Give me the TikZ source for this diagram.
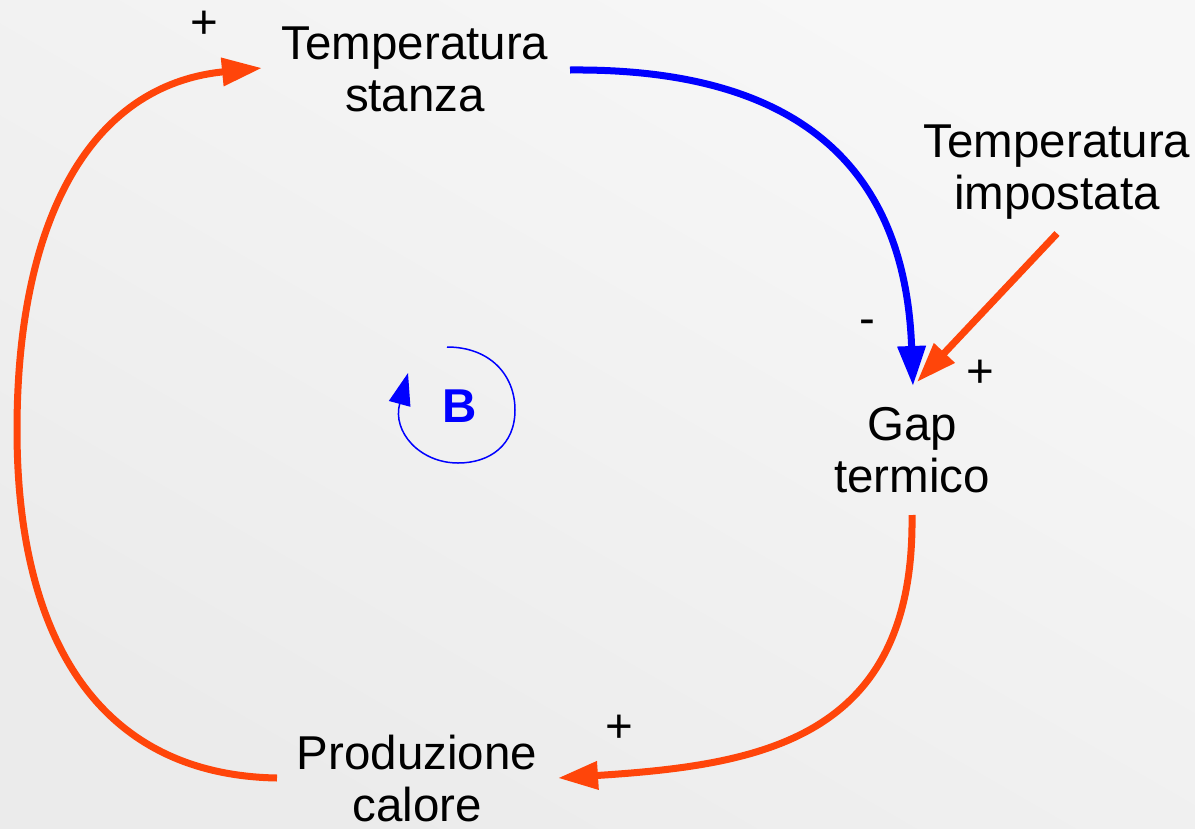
\documentclass[tikz,border=0pt]{standalone}
\usepackage{fontspec}
\setmainfont{Liberation Sans}
\usetikzlibrary{arrows.meta,calc}
\definecolor{lred}{RGB}{255,69,10}
\definecolor{lblue}{RGB}{0,0,255}
\definecolor{bgA}{RGB}{235,235,235}
\definecolor{bgB}{RGB}{247,247,247}
\begin{document}
\begin{tikzpicture}[x=1pt,y=-1pt,
  var/.style={align=center,inner sep=0pt,font=\fontsize{47.5}{52}\selectfont},
  sgn/.style={inner sep=0pt,font=\fontsize{47.5}{52}\selectfont},
  link/.style={line width=7pt,-{Triangle[length=40pt,width=27pt]}},
  redlink/.style={link,draw=lred},
  bluelink/.style={link,draw=lblue}]
\shade[top color=bgB,bottom color=bgA,shading angle=-30] (0,0) rectangle (1195,828);
\useasboundingbox (0,0) rectangle (1195,828);
% variables
\node[var] (ts)  at (415,69.5)  {Temperatura\\stanza};
\node[var] (ti)  at (1057,172.5) {Temperatura\\impostata};
\node[var] (gap) at (912,450.5) {Gap\\termico};
\node[var] (pc)  at (417,778.5) {Produzione\\calore};
% polarity signs
\node[sgn] (p1) at (204,25) {+};
\node[sgn] (m1) at (867,327) {-};
\node[sgn] (p2) at (980,374) {+};
\node[sgn] (p3) at (619,729) {+};
% loop marker
\node[inner sep=0pt,font=\fontsize{47.5}{52}\selectfont\bfseries,text=lblue] (lb) at (460,406) {B};
\draw[lblue,line width=1.5pt,-{Triangle[length=32pt,width=22pt]}]
  (447,347) .. controls (490,347) and (515,375) .. (515,410)
  .. controls (515,445) and (490,463) .. (458,463)
  .. controls (420,463) and (392,432) .. (408,373);
% connectors
\draw[bluelink] ($(ts)+(155,0.5)$) .. controls (790,68) and (905,160) .. ($(gap)+(1,-64.5)$);
\draw[redlink] ($(ti)+(0,61)$) -- ($(gap)+(5,-68.5)$);
\draw[redlink] ($(gap)+(0,64.5)$) .. controls (915,740) and (760,765) .. ($(pc)+(141,-0.5)$);
\draw[redlink] ($(pc)+(-140,-0.5)$) .. controls (100,775) and (17,640) .. (17,430)
  .. controls (17,220) and (90,85) .. ($(ts)+(-153,-1.5)$);
\end{tikzpicture}
\end{document}
